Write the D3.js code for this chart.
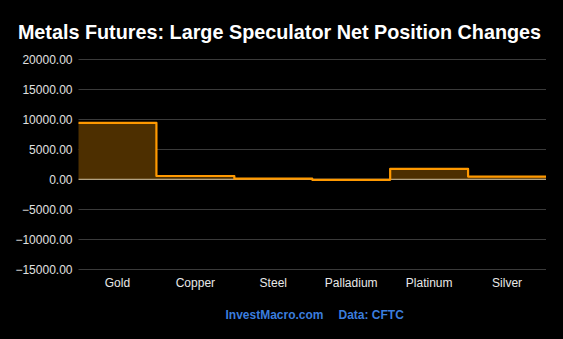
<!DOCTYPE html>
<html><head><meta charset="utf-8">
<script src="https://cdn.jsdelivr.net/npm/d3@7"></script>
<style>
html,body{margin:0;padding:0;background:#000;}
svg{display:block;font-family:"Liberation Sans",Arial,sans-serif;}
</style></head>
<body>
<svg id="c" width="563" height="339"></svg>
<script>
const categories = ["Gold","Copper","Steel","Palladium","Platinum","Silver"];
const netChanges = [9420, 550, 100, -80, 1750, 450];
const yTicks = [-15000,-10000,-5000,0,5000,10000,15000,20000];
const title = "Metals Futures: Large Speculator Net Position Changes";

const svg = d3.select("#c");
svg.append("rect").attr("width",563).attr("height",339).attr("fill","#000");

const x = d3.scaleBand().domain(categories).range([78.5, 546]).padding(0);
const y = d3.scaleLinear().domain([-15000, 20000]).range([269.3, 59.3]);

// grid
svg.append("g").selectAll("line").data(yTicks.filter(d=>d!==0)).join("line")
  .attr("x1",78.5).attr("x2",546)
  .attr("y1",d=>Math.round(y(d))+0.5).attr("y2",d=>Math.round(y(d))+0.5)
  .attr("stroke","#3a3a3a").attr("stroke-width",1);

// y axis labels
const yAxis = d3.axisLeft(y).tickValues(yTicks).tickFormat(d3.format(".2f")).tickSize(0).tickPadding(6);
const ya = svg.append("g").attr("transform","translate(78.5,0)").call(yAxis);
ya.select(".domain").remove();
ya.selectAll("text").attr("fill","#e0e0e0").attr("font-size","12px")
  .attr("font-family","'Liberation Sans',Arial,sans-serif");

// step data
const pts = categories.map((c,i)=>({x:x(c), v:netChanges[i]}));
pts.push({x:x.range()[1], v:netChanges[netChanges.length-1]});

const area = d3.area().curve(d3.curveStepAfter)
  .x(d=>d.x).y0(y(0)).y1(d=>y(d.v));
svg.append("path").datum(pts).attr("d",area).attr("fill","#4d2f00");

// zero line
svg.append("line").attr("x1",78.5).attr("x2",546)
  .attr("y1",y(0)).attr("y2",y(0)).attr("stroke","#dccaa6").attr("stroke-width",1);

const line = d3.line().curve(d3.curveStepAfter).x(d=>d.x).y(d=>y(d.v));
svg.append("path").datum(pts).attr("d",line).attr("fill","none")
  .attr("stroke","#ff9900").attr("stroke-width",2.2).attr("stroke-linejoin","round");

// x axis labels
const xAxis = d3.axisBottom(x).tickSize(0).tickPadding(8);
const xa = svg.append("g").attr("transform","translate(0,270)").call(xAxis);
xa.select(".domain").remove();
xa.selectAll("text").attr("fill","#e8e8e8").attr("font-size","12px")
  .attr("font-family","'Liberation Sans',Arial,sans-serif");

// title
svg.append("text").attr("x",279.5).attr("y",38.5).attr("text-anchor","middle")
  .attr("fill","#fff").attr("font-size","19.8px").attr("font-weight","bold").text(title);

// footer
svg.append("text").attr("x",225.5).attr("y",319).attr("fill","#3b7ddd")
  .attr("font-size","12px").attr("font-weight","bold").text("InvestMacro.com");
svg.append("text").attr("x",338.5).attr("y",319).attr("fill","#3b7ddd")
  .attr("font-size","12px").attr("font-weight","bold").text("Data: CFTC");
</script>
</body></html>
